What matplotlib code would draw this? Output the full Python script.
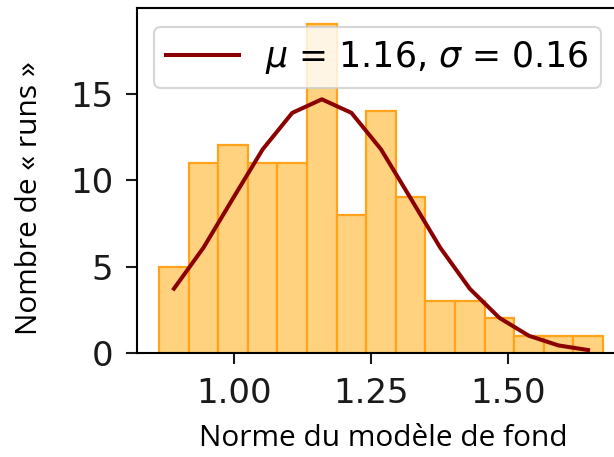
import numpy as np
import matplotlib
matplotlib.use("Agg")
import matplotlib.pyplot as plt

# Histogram of background-model norms over all runs
bin_start = 0.863
bin_width = 0.054
counts = [5, 11, 12, 11, 11, 19, 8, 14, 9, 3, 3, 2, 1, 1, 1]

# Fitted normal distribution parameters
mu = 1.16
sigma = 0.163

xtick_values = [1.00, 1.25, 1.50]
ytick_values = [0, 5, 10, 15]

edges = bin_start + bin_width * np.arange(len(counts) + 1)
centers = 0.5 * (edges[:-1] + edges[1:])
n_total = sum(counts)
fit = n_total * bin_width * np.exp(-0.5 * ((centers - mu) / sigma) ** 2) / (sigma * np.sqrt(2 * np.pi))

fig = plt.figure(figsize=(6.14, 4.57), dpi=100)
ax = fig.add_axes([137 / 614, 1 - 353 / 457, (625 - 137) / 614, (353 - 8) / 457])

ax.bar(edges[:-1], counts, width=bin_width, align="edge",
       facecolor="#FFD280", edgecolor="#FFA31A", linewidth=1.6)
ax.plot(centers, fit, color="#8B0000", linewidth=2.9,
        label=rf"$\mu$ = {mu:.2f}, $\sigma$ = {sigma:.2f}")

ax.set_xlim(edges[0] - 0.05 * (edges[-1] - edges[0]), edges[-1] + 0.05 * (edges[-1] - edges[0]))
ax.set_ylim(0, 19 * 1.05)
ax.set_xticks(xtick_values)
ax.set_xticklabels([f"{v:.2f}" for v in xtick_values])
ax.set_yticks(ytick_values)

for s in ax.spines.values():
    s.set_linewidth(1.5)
ax.tick_params(axis="both", labelsize=24.5, length=8, width=1.5, pad=9, colors="#1a1a1a")

label_font = ["Open Sans", "DejaVu Sans"]
ax.set_xlabel("Norme du modèle de fond", fontsize=21.5, family=label_font)
ax.set_ylabel("Nombre de « runs »", fontsize=21.5, family=label_font)
ax.xaxis.set_label_coords(0.504, -0.205)
ax.yaxis.set_label_coords(-0.19, 0.45)

leg = ax.legend(loc="upper left", bbox_to_anchor=(0.035, 0.945), borderaxespad=0,
                fontsize=25, handlelength=2.1, borderpad=0.35, handletextpad=0.75,
                fancybox=True)
leg.get_frame().set_linewidth(1.5)

fig.savefig("out.png", dpi=100)
